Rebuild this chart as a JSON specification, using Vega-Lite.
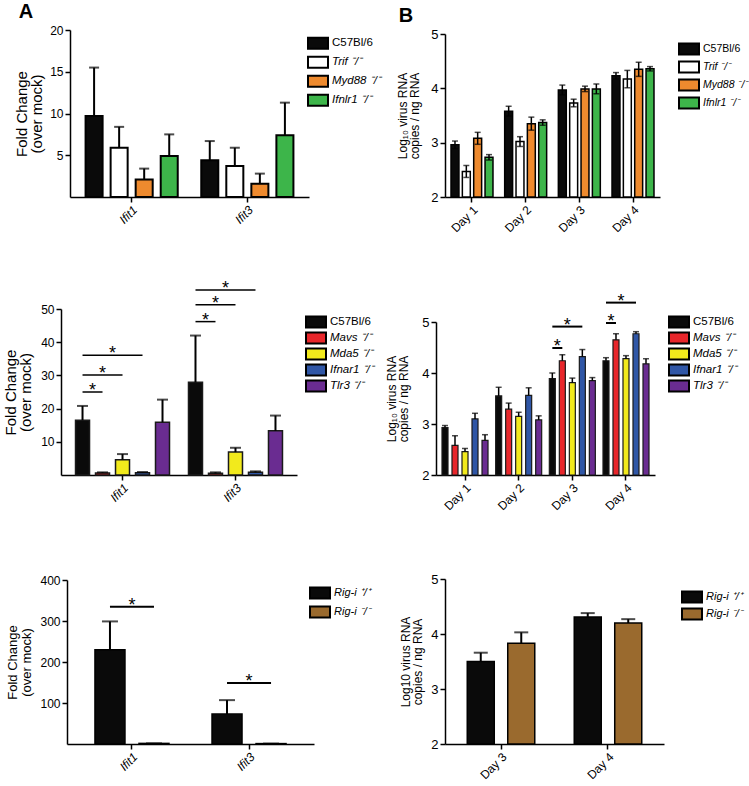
{
"$schema": "https://vega.github.io/schema/vega-lite/v6.json",
"padding": {"left": 3, "top": 2, "right": 0, "bottom": 0},
"background": "white",
"config": {
  "font": "Liberation Sans",
  "view": {"stroke": null},
  "axis": {"domainColor": "black", "domainWidth": 1.5, "tickColor": "black", "tickWidth": 1.5, "tickSize": 5, "labelColor": "black", "labelFont": "Liberation Sans", "labelFontSize": 12, "titleFont": "Liberation Sans", "titleFontWeight": "normal", "titleColor": "black", "grid": false, "labelPadding": 2, "titleLineHeight": 15},
  "legend": {"orient": "none", "title": null, "padding": 0, "symbolType": "M-0.6,-1.1H3.4V1.1H-0.6Z", "symbolSize": 100, "symbolStrokeColor": "black", "symbolStrokeWidth": 2, "symbolOpacity": 1, "labelFont": "Liberation Sans", "labelFontSize": 11.5, "labelColor": "black", "labelOffset": 15, "labelLimit": 100, "rowPadding": 0},
  "title": {"font": "Liberation Sans", "fontSize": 20, "fontWeight": "bold", "color": "black", "anchor": "start", "frame": "bounds"}
},
"columns": 2,
"bounds": "flush",
"spacing": {"row": 104, "column": 122},
"resolve": {"scale": {"color": "independent", "x": "independent", "y": "independent", "xOffset": "independent"}, "legend": {"color": "independent"}},
"concat": [
{
  "width": 253, "height": 167,
  "title": {"text": "A", "offset": 2, "dx": 4},
  "data": {"values": [
    {"g": "Ifit1", "s": "C57Bl/6", "v": 9.7, "hi": 15.5},
    {"g": "Ifit1", "s": "Trif ⁻/⁻", "v": 5.9, "hi": 8.4},
    {"g": "Ifit1", "s": "Myd88 ⁻/⁻", "v": 2.1, "hi": 3.4},
    {"g": "Ifit1", "s": "Ifnlr1 ⁻/⁻", "v": 4.9, "hi": 7.5},
    {"g": "Ifit3", "s": "C57Bl/6", "v": 4.4, "hi": 6.7},
    {"g": "Ifit3", "s": "Trif ⁻/⁻", "v": 3.7, "hi": 5.9},
    {"g": "Ifit3", "s": "Myd88 ⁻/⁻", "v": 1.6, "hi": 2.8},
    {"g": "Ifit3", "s": "Ifnlr1 ⁻/⁻", "v": 7.4, "hi": 11.3}
  ]},
  "encoding": {
    "x": {"field": "g", "type": "nominal", "sort": null, "scale": {"range": [9, 248], "paddingInner": 0.134, "paddingOuter": 0.1}, "axis": {"title": null, "labelAngle": -45, "labelFontStyle": "italic"}},
    "xOffset": {"field": "s", "type": "nominal", "sort": null, "scale": {"domain": ["C57Bl/6", "Trif ⁻/⁻", "Myd88 ⁻/⁻", "Ifnlr1 ⁻/⁻"], "paddingInner": 0.32, "paddingOuter": 0.16}}
  },
  "layer": [
    {"mark": {"type": "bar", "stroke": "black", "strokeWidth": 2},
     "encoding": {
       "y": {"field": "v", "type": "quantitative", "scale": {"domain": [0, 20]}, "axis": {"values": [5, 10, 15, 20], "offset": -9, "title": ["Fold Change", "(over mock)"], "titleFontSize": 15, "titlePadding": 5}},
       "color": {"field": "s", "type": "nominal", "scale": {"domain": ["C57Bl/6", "Trif ⁻/⁻", "Myd88 ⁻/⁻", "Ifnlr1 ⁻/⁻"], "range": ["#0a0a0a", "#ffffff", "#ee8a2e", "#3db54a"]}, "legend": {"legendX": 244, "legendY": 4, "clipHeight": 18.5, "labelFontStyle": {"expr": "datum.value == 'C57Bl/6' ? 'normal' : 'italic'"}}}
     }},
    {"mark": {"type": "rule", "color": "black", "strokeWidth": 2},
     "encoding": {"y": {"field": "v", "type": "quantitative"}, "y2": {"field": "hi"}}},
    {"mark": {"type": "tick", "color": "black", "thickness": 2, "size": 10, "orient": "horizontal"},
     "encoding": {"y": {"field": "hi", "type": "quantitative"}}}
  ]
},
{
  "width": 228, "height": 167,
  "title": {"text": "B", "offset": 2, "dx": 2},
  "data": {"values": [
    {"g": "Day 1", "s": "C57Bl/6", "v": 2.96, "hi": 3.03, "lo": 2.89},
    {"g": "Day 1", "s": "Trif ⁻/⁻", "v": 2.47, "hi": 2.58, "lo": 2.36},
    {"g": "Day 1", "s": "Myd88 ⁻/⁻", "v": 3.08, "hi": 3.19, "lo": 2.97},
    {"g": "Day 1", "s": "Ifnlr1 ⁻/⁻", "v": 2.73, "hi": 2.78, "lo": 2.68},
    {"g": "Day 2", "s": "C57Bl/6", "v": 3.58, "hi": 3.67, "lo": 3.49},
    {"g": "Day 2", "s": "Trif ⁻/⁻", "v": 3.02, "hi": 3.11, "lo": 2.93},
    {"g": "Day 2", "s": "Myd88 ⁻/⁻", "v": 3.35, "hi": 3.47, "lo": 3.23},
    {"g": "Day 2", "s": "Ifnlr1 ⁻/⁻", "v": 3.37, "hi": 3.42, "lo": 3.32},
    {"g": "Day 3", "s": "C57Bl/6", "v": 3.97, "hi": 4.06, "lo": 3.88},
    {"g": "Day 3", "s": "Trif ⁻/⁻", "v": 3.73, "hi": 3.8, "lo": 3.66},
    {"g": "Day 3", "s": "Myd88 ⁻/⁻", "v": 3.99, "hi": 4.04, "lo": 3.94},
    {"g": "Day 3", "s": "Ifnlr1 ⁻/⁻", "v": 3.99, "hi": 4.08, "lo": 3.9},
    {"g": "Day 4", "s": "C57Bl/6", "v": 4.23, "hi": 4.29, "lo": 4.17},
    {"g": "Day 4", "s": "Trif ⁻/⁻", "v": 4.17, "hi": 4.33, "lo": 4.01},
    {"g": "Day 4", "s": "Myd88 ⁻/⁻", "v": 4.35, "hi": 4.48, "lo": 4.22},
    {"g": "Day 4", "s": "Ifnlr1 ⁻/⁻", "v": 4.36, "hi": 4.4, "lo": 4.32}
  ]},
  "encoding": {
    "x": {"field": "g", "type": "nominal", "sort": null, "scale": {"range": [9, 224], "paddingInner": 0.218, "paddingOuter": 0.112}, "axis": {"title": null, "labelAngle": -45}},
    "xOffset": {"field": "s", "type": "nominal", "sort": null, "scale": {"domain": ["C57Bl/6", "Trif ⁻/⁻", "Myd88 ⁻/⁻", "Ifnlr1 ⁻/⁻"], "paddingInner": 0.3, "paddingOuter": 0}}
  },
  "layer": [
    {"mark": {"type": "bar", "stroke": "black", "strokeWidth": 1.5},
     "encoding": {
       "y": {"field": "v", "type": "quantitative", "scale": {"domain": [2, 5], "range": [167, 4], "zero": false}, "axis": {"values": [2, 3, 4, 5], "format": "d", "offset": -9, "labelFontSize": 13, "title": ["Log₁₀ virus RNA", "copies / ng RNA"], "titleFontSize": 12, "titleLineHeight": 12, "titlePadding": 9}},
       "y2": {"datum": 2},
       "color": {"field": "s", "type": "nominal", "scale": {"domain": ["C57Bl/6", "Trif ⁻/⁻", "Myd88 ⁻/⁻", "Ifnlr1 ⁻/⁻"], "range": ["#0a0a0a", "#ffffff", "#ee8a2e", "#3db54a"]}, "legend": {"legendX": 240, "legendY": 10, "clipHeight": 18, "labelFontSize": 10.5, "labelFontStyle": {"expr": "datum.value == 'C57Bl/6' ? 'normal' : 'italic'"}}}
     }},
    {"mark": {"type": "rule", "color": "black", "strokeWidth": 1.5},
     "encoding": {"y": {"field": "lo", "type": "quantitative"}, "y2": {"field": "hi"}}},
    {"mark": {"type": "tick", "color": "black", "thickness": 1.5, "size": 6, "orient": "horizontal"},
     "encoding": {"y": {"field": "hi", "type": "quantitative"}}},
    {"mark": {"type": "tick", "color": "black", "thickness": 1.5, "size": 6, "orient": "horizontal"},
     "encoding": {"y": {"field": "lo", "type": "quantitative"}}}
  ]
},
{
  "width": 253, "height": 174,
  "encoding": {
    "x": {"field": "g", "type": "nominal", "sort": null, "scale": {"domain": ["Ifit1", "Ifit3"], "range": [0, 236], "paddingInner": 0.115, "paddingOuter": 0.102}, "axis": {"title": null, "labelAngle": -45, "labelFontStyle": "italic"}},
    "xOffset": {"field": "s", "type": "nominal", "sort": null, "scale": {"domain": ["C57Bl/6", "m1", "Mavs ⁻/⁻", "m2", "Mda5 ⁻/⁻", "m3", "Ifnar1 ⁻/⁻", "m4", "Tlr3 ⁻/⁻"], "paddingInner": 0, "paddingOuter": 0.5}}
  },
  "layer": [
    {"data": {"values": [
       {"g": "Ifit1", "s": "C57Bl/6", "v": 16.5, "hi": 20.8},
       {"g": "Ifit1", "s": "Mavs ⁻/⁻", "v": 0.6, "hi": 0.8},
       {"g": "Ifit1", "s": "Mda5 ⁻/⁻", "v": 4.6, "hi": 6.3},
       {"g": "Ifit1", "s": "Ifnar1 ⁻/⁻", "v": 0.7, "hi": 0.9},
       {"g": "Ifit1", "s": "Tlr3 ⁻/⁻", "v": 15.9, "hi": 22.7},
       {"g": "Ifit3", "s": "C57Bl/6", "v": 27.9, "hi": 42.0},
       {"g": "Ifit3", "s": "Mavs ⁻/⁻", "v": 0.5, "hi": 0.8},
       {"g": "Ifit3", "s": "Mda5 ⁻/⁻", "v": 6.9, "hi": 8.2},
       {"g": "Ifit3", "s": "Ifnar1 ⁻/⁻", "v": 0.8, "hi": 1.1},
       {"g": "Ifit3", "s": "Tlr3 ⁻/⁻", "v": 13.3, "hi": 17.9}
     ]},
     "layer": [
       {"mark": {"type": "bar", "stroke": "#1a1a1a", "strokeWidth": 1.5, "width": 14},
        "encoding": {
          "y": {"field": "v", "type": "quantitative", "scale": {"domain": [0, 50], "range": [174, 8]}, "axis": {"values": [10, 20, 30, 40, 50], "title": ["Fold Change", "(over mock)"], "titleFontSize": 15, "titlePadding": 7}},
          "color": {"field": "s", "type": "nominal", "scale": {"domain": ["C57Bl/6", "Mavs ⁻/⁻", "Mda5 ⁻/⁻", "Ifnar1 ⁻/⁻", "Tlr3 ⁻/⁻"], "range": ["#0a0a0a", "#e8262b", "#f2ea1c", "#2f56a6", "#6a2c91"]}, "legend": {"legendX": 242, "legendY": 13, "clipHeight": 16, "labelFontStyle": {"expr": "datum.value == 'C57Bl/6' ? 'normal' : 'italic'"}}}
        }},
       {"mark": {"type": "rule", "color": "black", "strokeWidth": 2},
        "encoding": {"y": {"field": "v", "type": "quantitative"}, "y2": {"field": "hi"}}},
       {"mark": {"type": "tick", "color": "black", "thickness": 2, "size": 11, "orient": "horizontal"},
        "encoding": {"y": {"field": "hi", "type": "quantitative"}}}
     ]},
    {"data": {"values": [
       {"g": "Ifit1", "id": "a", "s": "C57Bl/6", "y": 25.0}, {"g": "Ifit1", "id": "a", "s": "Mavs ⁻/⁻", "y": 25.0},
       {"g": "Ifit1", "id": "b", "s": "C57Bl/6", "y": 30.1}, {"g": "Ifit1", "id": "b", "s": "Mda5 ⁻/⁻", "y": 30.1},
       {"g": "Ifit1", "id": "c", "s": "C57Bl/6", "y": 36.1}, {"g": "Ifit1", "id": "c", "s": "Ifnar1 ⁻/⁻", "y": 36.1},
       {"g": "Ifit3", "id": "d", "s": "C57Bl/6", "y": 46.2}, {"g": "Ifit3", "id": "d", "s": "Mavs ⁻/⁻", "y": 46.2},
       {"g": "Ifit3", "id": "e", "s": "C57Bl/6", "y": 51.3}, {"g": "Ifit3", "id": "e", "s": "Mda5 ⁻/⁻", "y": 51.3},
       {"g": "Ifit3", "id": "f", "s": "C57Bl/6", "y": 55.7}, {"g": "Ifit3", "id": "f", "s": "Ifnar1 ⁻/⁻", "y": 55.7}
     ]},
     "mark": {"type": "line", "color": "black", "strokeWidth": 1.5},
     "encoding": {"y": {"field": "y", "type": "quantitative"}, "detail": {"field": "id"}}},
    {"data": {"values": [
       {"g": "Ifit1", "s": "m1", "y": 25.0}, {"g": "Ifit1", "s": "Mavs ⁻/⁻", "y": 30.1}, {"g": "Ifit1", "s": "m2", "y": 36.1},
       {"g": "Ifit3", "s": "m1", "y": 46.2}, {"g": "Ifit3", "s": "Mavs ⁻/⁻", "y": 51.3}, {"g": "Ifit3", "s": "m2", "y": 55.7}
     ]},
     "mark": {"type": "text", "text": "*", "fontSize": 18, "baseline": "alphabetic", "dy": 4, "color": "black"},
     "encoding": {"y": {"field": "y", "type": "quantitative"}}}
  ]
},
{
  "width": 228, "height": 174,
  "encoding": {
    "x": {"field": "g", "type": "nominal", "sort": null, "scale": {"domain": ["Day 1", "Day 2", "Day 3", "Day 4"], "range": [0, 219], "paddingInner": 0.068, "paddingOuter": 0.0745}, "axis": {"title": null, "labelAngle": -45}},
    "xOffset": {"field": "s", "type": "nominal", "sort": null, "scale": {"domain": ["C57Bl/6", "m1", "Mavs ⁻/⁻", "m2", "Mda5 ⁻/⁻", "m3", "Ifnar1 ⁻/⁻", "m4", "Tlr3 ⁻/⁻"], "paddingInner": 0, "paddingOuter": 0.5}}
  },
  "layer": [
    {"data": {"values": [
       {"g": "Day 1", "s": "C57Bl/6", "v": 2.93, "hi": 2.97},
       {"g": "Day 1", "s": "Mavs ⁻/⁻", "v": 2.58, "hi": 2.77},
       {"g": "Day 1", "s": "Mda5 ⁻/⁻", "v": 2.46, "hi": 2.52},
       {"g": "Day 1", "s": "Ifnar1 ⁻/⁻", "v": 3.1, "hi": 3.21},
       {"g": "Day 1", "s": "Tlr3 ⁻/⁻", "v": 2.68, "hi": 2.79},
       {"g": "Day 2", "s": "C57Bl/6", "v": 3.55, "hi": 3.72},
       {"g": "Day 2", "s": "Mavs ⁻/⁻", "v": 3.29, "hi": 3.41},
       {"g": "Day 2", "s": "Mda5 ⁻/⁻", "v": 3.15, "hi": 3.23},
       {"g": "Day 2", "s": "Ifnar1 ⁻/⁻", "v": 3.56, "hi": 3.71},
       {"g": "Day 2", "s": "Tlr3 ⁻/⁻", "v": 3.08, "hi": 3.16},
       {"g": "Day 3", "s": "C57Bl/6", "v": 3.89, "hi": 4.0},
       {"g": "Day 3", "s": "Mavs ⁻/⁻", "v": 4.24, "hi": 4.36},
       {"g": "Day 3", "s": "Mda5 ⁻/⁻", "v": 3.81, "hi": 3.9},
       {"g": "Day 3", "s": "Ifnar1 ⁻/⁻", "v": 4.32, "hi": 4.46},
       {"g": "Day 3", "s": "Tlr3 ⁻/⁻", "v": 3.85, "hi": 3.91},
       {"g": "Day 4", "s": "C57Bl/6", "v": 4.24, "hi": 4.3},
       {"g": "Day 4", "s": "Mavs ⁻/⁻", "v": 4.65, "hi": 4.77},
       {"g": "Day 4", "s": "Mda5 ⁻/⁻", "v": 4.28, "hi": 4.34},
       {"g": "Day 4", "s": "Ifnar1 ⁻/⁻", "v": 4.77, "hi": 4.81},
       {"g": "Day 4", "s": "Tlr3 ⁻/⁻", "v": 4.18, "hi": 4.28}
     ]},
     "layer": [
       {"mark": {"type": "bar", "stroke": "#1a1a1a", "strokeWidth": 1.2, "width": 6},
        "encoding": {
          "y": {"field": "v", "type": "quantitative", "scale": {"domain": [2, 5], "range": [174, 21], "zero": false}, "axis": {"values": [2, 3, 4, 5], "format": "d", "labelFontSize": 13, "title": ["Log₁₀ virus RNA", "copies / ng RNA"], "titleFontSize": 12, "titleLineHeight": 12, "titlePadding": 11}},
          "y2": {"datum": 2},
          "color": {"field": "s", "type": "nominal", "scale": {"domain": ["C57Bl/6", "Mavs ⁻/⁻", "Mda5 ⁻/⁻", "Ifnar1 ⁻/⁻", "Tlr3 ⁻/⁻"], "range": ["#0a0a0a", "#e8262b", "#f2ea1c", "#2f56a6", "#6a2c91"]}, "legend": {"legendX": 230, "legendY": 13, "clipHeight": 16, "labelFontStyle": {"expr": "datum.value == 'C57Bl/6' ? 'normal' : 'italic'"}}}
        }},
       {"mark": {"type": "rule", "color": "black", "strokeWidth": 1.5},
        "encoding": {"y": {"field": "v", "type": "quantitative"}, "y2": {"field": "hi"}}},
       {"mark": {"type": "tick", "color": "black", "thickness": 1.5, "size": 6, "orient": "horizontal"},
        "encoding": {"y": {"field": "hi", "type": "quantitative"}}}
     ]},
    {"data": {"values": [
       {"g": "Day 3", "id": "a", "s": "C57Bl/6", "y": 4.49}, {"g": "Day 3", "id": "a", "s": "Mavs ⁻/⁻", "y": 4.49},
       {"g": "Day 3", "id": "b", "s": "C57Bl/6", "y": 4.91}, {"g": "Day 3", "id": "b", "s": "Ifnar1 ⁻/⁻", "y": 4.91},
       {"g": "Day 4", "id": "c", "s": "C57Bl/6", "y": 4.98}, {"g": "Day 4", "id": "c", "s": "Mavs ⁻/⁻", "y": 4.98},
       {"g": "Day 4", "id": "d", "s": "C57Bl/6", "y": 5.38}, {"g": "Day 4", "id": "d", "s": "Ifnar1 ⁻/⁻", "y": 5.38}
     ]},
     "mark": {"type": "line", "color": "black", "strokeWidth": 2},
     "encoding": {"y": {"field": "y", "type": "quantitative"}, "detail": {"field": "id"}}},
    {"data": {"values": [
       {"g": "Day 3", "s": "m1", "y": 4.49}, {"g": "Day 3", "s": "m2", "y": 4.91},
       {"g": "Day 4", "s": "m1", "y": 4.98}, {"g": "Day 4", "s": "m2", "y": 5.38}
     ]},
     "mark": {"type": "text", "text": "*", "fontSize": 18, "baseline": "alphabetic", "dy": 4, "color": "black"},
     "encoding": {"y": {"field": "y", "type": "quantitative"}}}
  ]
},
{
  "width": 253, "height": 165,
  "encoding": {
    "x": {"field": "g", "type": "nominal", "sort": null, "scale": {"domain": ["Ifit1", "Ifit3"], "range": [6, 253], "paddingInner": 0.248, "paddingOuter": 0.179}, "axis": {"title": null, "labelAngle": -45, "labelFontStyle": "italic"}},
    "xOffset": {"field": "s", "type": "nominal", "sort": null, "scale": {"domain": ["Rig-i ⁺/⁺", "m", "Rig-i ⁻/⁻"], "paddingInner": 0, "paddingOuter": 0.5}}
  },
  "layer": [
    {"data": {"values": [
       {"g": "Ifit1", "s": "Rig-i ⁺/⁺", "v": 230, "hi": 299},
       {"g": "Ifit1", "s": "Rig-i ⁻/⁻", "v": 1.5, "hi": 1.5},
       {"g": "Ifit3", "s": "Rig-i ⁺/⁺", "v": 73, "hi": 107},
       {"g": "Ifit3", "s": "Rig-i ⁻/⁻", "v": 1, "hi": 1}
     ]},
     "layer": [
       {"mark": {"type": "bar", "stroke": "black", "strokeWidth": 1.5, "width": 30},
        "encoding": {
          "y": {"field": "v", "type": "quantitative", "scale": {"domain": [0, 400], "range": [165, 1]}, "axis": {"values": [100, 200, 300, 400], "offset": -6, "title": ["Fold Change", "(over mock)"], "titleFontSize": 13, "titleLineHeight": 14, "titlePadding": 6}},
          "color": {"field": "s", "type": "nominal", "scale": {"domain": ["Rig-i ⁺/⁺", "Rig-i ⁻/⁻"], "range": ["#0a0a0a", "#9a6a2e"]}, "legend": {"legendX": 246, "legendY": 4.5, "clipHeight": 19, "labelFontSize": 11, "labelFontStyle": "italic"}}
        }},
       {"mark": {"type": "rule", "color": "black", "strokeWidth": 2},
        "encoding": {"y": {"field": "v", "type": "quantitative"}, "y2": {"field": "hi"}}},
       {"mark": {"type": "tick", "color": "black", "thickness": 2, "size": 16, "orient": "horizontal"},
        "encoding": {"y": {"field": "hi", "type": "quantitative"}}}
     ]},
    {"data": {"values": [
       {"g": "Ifit1", "id": "a", "s": "Rig-i ⁺/⁺", "y": 335}, {"g": "Ifit1", "id": "a", "s": "Rig-i ⁻/⁻", "y": 335},
       {"g": "Ifit3", "id": "b", "s": "Rig-i ⁺/⁺", "y": 148.5}, {"g": "Ifit3", "id": "b", "s": "Rig-i ⁻/⁻", "y": 148.5}
     ]},
     "mark": {"type": "line", "color": "black", "strokeWidth": 2},
     "encoding": {"y": {"field": "y", "type": "quantitative"}, "detail": {"field": "id"}}},
    {"data": {"values": [
       {"g": "Ifit1", "s": "m", "y": 335}, {"g": "Ifit3", "s": "m", "y": 148.5}
     ]},
     "mark": {"type": "text", "text": "*", "fontSize": 18, "baseline": "alphabetic", "dy": 4, "color": "black"},
     "encoding": {"y": {"field": "y", "type": "quantitative"}}}
  ]
},
{
  "width": 228, "height": 165,
  "data": {"values": [
    {"g": "Day 3", "s": "Rig-i ⁺/⁺", "v": 3.5, "hi": 3.66},
    {"g": "Day 3", "s": "Rig-i ⁻/⁻", "v": 3.83, "hi": 4.03},
    {"g": "Day 4", "s": "Rig-i ⁺/⁺", "v": 4.31, "hi": 4.38},
    {"g": "Day 4", "s": "Rig-i ⁻/⁻", "v": 4.2, "hi": 4.27}
  ]},
  "encoding": {
    "x": {"field": "g", "type": "nominal", "sort": null, "scale": {"range": [9, 228], "paddingInner": 0.369, "paddingOuter": 0.208}, "axis": {"title": null, "labelAngle": -45}},
    "xOffset": {"field": "s", "type": "nominal", "sort": null, "scale": {"domain": ["Rig-i ⁺/⁺", "Rig-i ⁻/⁻"], "paddingInner": 0.333, "paddingOuter": 0}}
  },
  "layer": [
    {"mark": {"type": "bar", "stroke": "black", "strokeWidth": 1.5},
     "encoding": {
       "y": {"field": "v", "type": "quantitative", "scale": {"domain": [2, 5], "zero": false}, "axis": {"values": [2, 3, 4, 5], "format": "d", "offset": -9, "labelFontSize": 13, "title": ["Log10 virus RNA", "copies / ng RNA"], "titleFontSize": 12, "titleLineHeight": 12, "titlePadding": 6}},
       "y2": {"datum": 2},
       "color": {"field": "s", "type": "nominal", "scale": {"domain": ["Rig-i ⁺/⁺", "Rig-i ⁻/⁻"], "range": ["#0a0a0a", "#9a6a2e"]}, "legend": {"legendX": 243, "legendY": 9.5, "clipHeight": 17, "labelFontSize": 11, "labelFontStyle": "italic"}}
     }},
    {"mark": {"type": "rule", "color": "black", "strokeWidth": 2},
     "encoding": {"y": {"field": "v", "type": "quantitative"}, "y2": {"field": "hi"}}},
    {"mark": {"type": "tick", "color": "black", "thickness": 2, "size": 14, "orient": "horizontal"},
     "encoding": {"y": {"field": "hi", "type": "quantitative"}}}
  ]
}
]
}
